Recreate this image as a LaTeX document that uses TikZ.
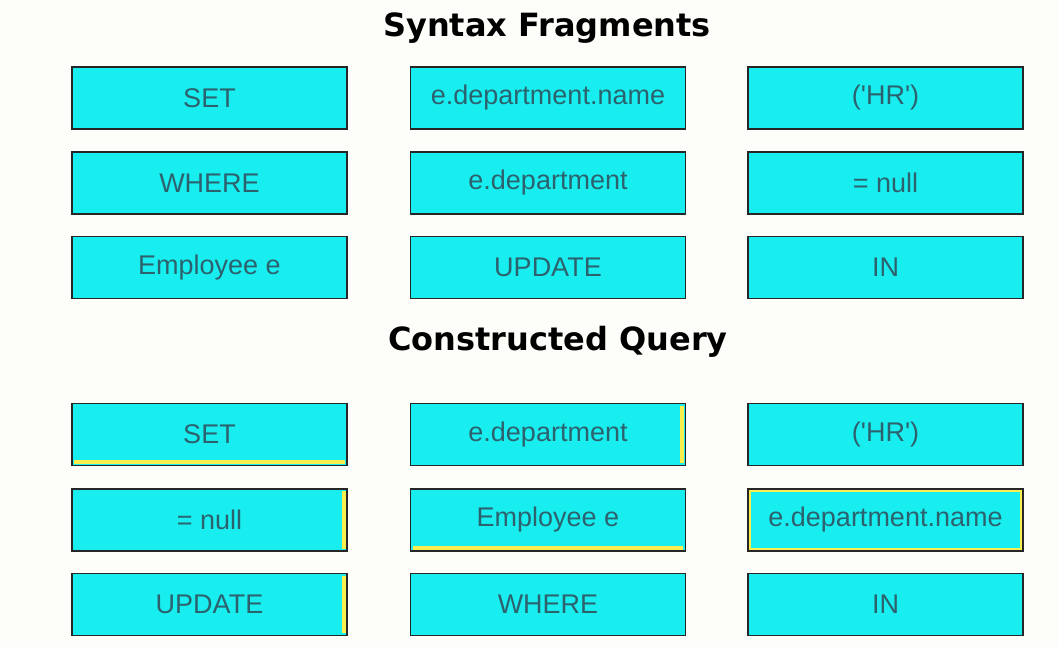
\documentclass[tikz,border=0pt]{standalone}
\usepackage{fontspec}
\setmainfont{Liberation Sans}
\newfontfamily\headfont{DejaVu Sans}
\definecolor{tilefill}{RGB}{24,238,240}
\definecolor{tiletext}{RGB}{44,98,110}
\definecolor{hilite}{RGB}{248,238,80}
\definecolor{paper}{RGB}{253,253,250}
\newcommand{\hrq}{(\textquotesingle HR\textquotesingle)}
\tikzset{
  tile/.style={draw=black!85, line width=1.8pt, fill=tilefill,
    minimum width=275pt, minimum height=62pt, inner sep=0pt,
    text=tiletext, font=\fontsize{27}{30}\selectfont},
  heading/.style={font=\headfont\bfseries\fontsize{32}{36}\selectfont, text=black},
  hl/.style={draw=hilite, line width=4pt},
}
\begin{document}
\begin{tikzpicture}[x=1pt,y=-1pt]
\useasboundingbox[fill=paper] (0,0) rectangle (1058,647);

% headings
\node[heading] (h1) at (547,28) {Syntax Fragments};
\node[heading] (h2) at (558,342) {Constructed Query};

% available fragments
\node[tile] (s11) at (209.5,98)  {SET};
\node[tile] (s12) at (548,98)    {e.department.name};
\node[tile] (s13) at (885.5,98)  {\hrq};
\node[tile] (s21) at (209.5,183) {WHERE};
\node[tile] (s22) at (548,183)   {e.department};
\node[tile] (s23) at (885.5,183) {= null};
\node[tile] (s31) at (209.5,267.5) {Employee e};
\node[tile] (s32) at (548,267.5)   {UPDATE};
\node[tile] (s33) at (885.5,267.5) {IN};

% assembled query
\node[tile] (q11) at (209.5,434.5) {SET};
\node[tile] (q12) at (548,434.5)   {e.department};
\node[tile] (q13) at (885.5,434.5) {\hrq};
\node[tile] (q21) at (209.5,520)   {= null};
\node[tile] (q22) at (548,520)     {Employee e};
\node[tile] (q23) at (885.5,520)   {e.department.name};
\node[tile] (q31) at (209.5,604.5) {UPDATE};
\node[tile] (q32) at (548,604.5)   {WHERE};
\node[tile] (q33) at (885.5,604.5) {IN};

% yellow drop highlights on placed tiles (drawn inside the frame)
\draw[hl] ([xshift=3pt,yshift=4pt]q11.south west) -- ([xshift=-3pt,yshift=4pt]q11.south east);
\draw[hl] ([xshift=-4pt,yshift=-3pt]q12.north east) -- ([xshift=-4pt,yshift=3pt]q12.south east);
\draw[hl] ([xshift=-4pt,yshift=-3pt]q21.north east) -- ([xshift=-4pt,yshift=3pt]q21.south east);
\draw[hl] ([xshift=3pt,yshift=4pt]q22.south west) -- ([xshift=-3pt,yshift=4pt]q22.south east);
\draw[hl, line width=1.5pt] ([xshift=3pt,yshift=-3pt]q23.north west) rectangle ([xshift=-3pt,yshift=3pt]q23.south east);
\draw[hl] ([xshift=-4pt,yshift=-3pt]q31.north east) -- ([xshift=-4pt,yshift=3pt]q31.south east);
\end{tikzpicture}
\end{document}
